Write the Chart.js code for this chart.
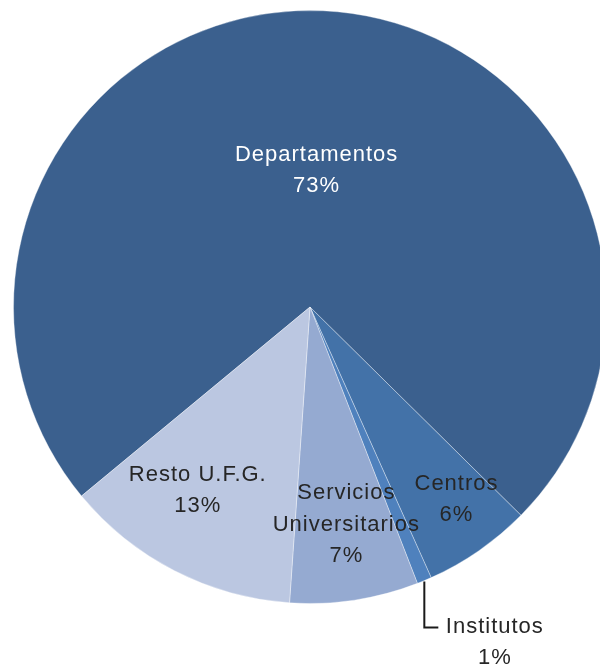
<!DOCTYPE html>
<html>
<head>
<meta charset="utf-8">
<script src="https://cdn.jsdelivr.net/npm/chart.js@4.4.0/dist/chart.umd.min.js"></script>
<style>
  html, body { margin: 0; padding: 0; background: #fff; overflow: hidden; }
  #chart { display: block; }
</style>
</head>
<body>
<canvas id="chart" width="620" height="670"></canvas>
<script>
// Datos (porcentaje del total)
const categorias = ["Departamentos", "Centros", "Institutos", "Servicios Universitarios", "Resto U.F.G."];
const valores = [73.4, 5.9, 0.8, 7.0, 12.9];
const etiquetasPct = ["73%", "6%", "1%", "7%", "13%"];

const colores = ["#3b608e", "#4372a8", "#4f81bd", "#95aad1", "#bbc7e1"];

// colocación de las etiquetas (fracción del radio, desvío angular en grados)
const posEtiquetas = [
  { lines: ["Departamentos"], r: 0.468, a: 0, color: "#ffffff" },
  { lines: ["Centros"], r: 0.81, a: -2.7, color: "#262626" },
  { lines: ["Institutos"], outside: true, color: "#262626" },
  { lines: ["Servicios", "Universitarios"], r: 0.737, a: -0.8, color: "#262626" },
  { lines: ["Resto U.F.G."], r: 0.72, a: 4.7, color: "#262626" },
];

const FONT = '22px "Liberation Sans", Arial, sans-serif';
const LINE_H = 31.5;
const CAP_H = 16;

function drawBlock(ctx, lines, cx, cy, color, align) {
  ctx.fillStyle = color;
  ctx.textAlign = align || "center";
  ctx.textBaseline = "alphabetic";
  const n = lines.length;
  lines.forEach((t, i) => {
    const y = cy - (n - 1) * LINE_H / 2 + i * LINE_H + CAP_H / 2;
    ctx.fillText(t, cx + 0.5, y);
  });
}

const etiquetasPlugin = {
  id: "etiquetas",
  afterDatasetsDraw(chart) {
    const ctx = chart.ctx;
    const arcs = chart.getDatasetMeta(0).data;
    ctx.save();
    ctx.font = FONT;
    if ("letterSpacing" in ctx) ctx.letterSpacing = "1px";
    arcs.forEach((arc, i) => {
      const p = arc.getProps(["x", "y", "startAngle", "endAngle", "outerRadius"], true);
      const cfg = posEtiquetas[i];
      const lines = cfg.lines.concat([etiquetasPct[i]]);
      const mid = (p.startAngle + p.endAngle) / 2;
      if (cfg.outside) {
        // línea guía hacia abajo y a la derecha
        const ex = p.x + Math.cos(mid) * p.outerRadius;
        const ey = p.y + Math.sin(mid) * p.outerRadius;
        ctx.strokeStyle = "#1a1a1a";
        ctx.lineWidth = 2;
        ctx.beginPath();
        ctx.moveTo(ex, ey + 1);
        ctx.lineTo(ex, ey + 47);
        ctx.lineTo(ex + 14, ey + 47);
        ctx.stroke();
        drawBlock(ctx, lines, ex + 70, ey + 60, cfg.color);
      } else {
        const ang = mid + cfg.a * Math.PI / 180;
        const rr = p.outerRadius * cfg.r;
        drawBlock(ctx, lines, p.x + Math.cos(ang) * rr, p.y + Math.sin(ang) * rr, cfg.color);
      }
    });
    ctx.restore();
  }
};

new Chart(document.getElementById("chart").getContext("2d"), {
  type: "pie",
  data: {
    labels: categorias,
    datasets: [{
      data: valores,
      backgroundColor: colores,
      borderColor: "rgba(255,255,255,0.35)",
      borderWidth: 1,
      hoverOffset: 0,
    }],
  },
  options: {
    responsive: false,
    animation: false,
    rotation: 230.4,
    layout: { padding: { left: 13, right: 13, top: 10, bottom: 66 } },
    plugins: {
      legend: { display: false },
      tooltip: { enabled: false },
    },
  },
  plugins: [etiquetasPlugin],
});
</script>
</body>
</html>
